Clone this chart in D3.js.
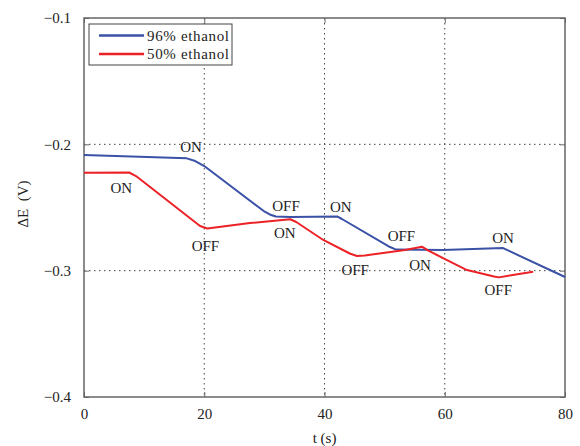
<!DOCTYPE html>
<html lang="en">
<head>
  <meta charset="UTF-8">
  <title>Delta E vs time</title>
  <script src="https://d3js.org/d3.v7.min.js"></script>
  <style>
    body { margin: 0; background: #fff; }
    text { font-family: "Liberation Serif", "DejaVu Serif", serif; fill: #222; }
  </style>
</head>
<body>
<div id="chart"></div>
<script>
// 96% ethanol series (t in s, dE in V)
const t96 = [0, 17.1, 18.5, 20.0, 29.9, 30.9, 31.9, 34.3, 42.1, 42.9, 50.9, 51.9, 59.7, 69.7, 70.7, 80];
const e96 = [-0.2084, -0.2111, -0.2132, -0.2172, -0.2528, -0.2555, -0.2571, -0.2575, -0.2571, -0.2591, -0.2813, -0.2833, -0.2836, -0.2821, -0.2844, -0.3050];

// 50% ethanol series
const t50 = [0, 7.5, 8.65, 19.3, 20.5, 27.6, 34.3, 35.3, 39.8, 44.2, 45.4, 46.7, 53.4, 56.2, 57.2, 59.8, 63.7, 68.2, 69.0, 74.7];
const e50 = [-0.2225, -0.2223, -0.2251, -0.2646, -0.2666, -0.2623, -0.2593, -0.2615, -0.2757, -0.2864, -0.2884, -0.2880, -0.2836, -0.2810, -0.2840, -0.2902, -0.2995, -0.3046, -0.3053, -0.3008];

// ON/OFF annotations
const noteText = ["ON", "ON", "OFF", "OFF", "ON", "ON", "OFF", "OFF", "ON", "ON", "OFF"];
const noteT = [17.8, 6.2, 20.2, 33.6, 33.4, 42.7, 52.8, 45.1, 55.9, 69.7, 68.9];
const noteE = [-0.2061, -0.2385, -0.2844, -0.2528, -0.2741, -0.2536, -0.2765, -0.3034, -0.2995, -0.2781, -0.3193];

const xTicks = [0, 20, 40, 60, 80];
const yTicks = [-0.1, -0.2, -0.3, -0.4];
const seriesNames = ["96% ethanol", "50% ethanol"];
const seriesColors = ["#3a51a6", "#ec2227"];

const width = 580, height = 446;
const margin = {top: 18, right: 15, bottom: 49, left: 84};
const iw = width - margin.left - margin.right;
const ih = height - margin.top - margin.bottom;

const svg = d3.select("#chart").append("svg")
  .attr("width", width)
  .attr("height", height);

const g = svg.append("g").attr("transform", `translate(${margin.left},${margin.top})`);

const x = d3.scaleLinear().domain([0, 80]).range([0, iw]);
const y = d3.scaleLinear().domain([-0.4, -0.1]).range([ih, 0]);

// dotted grid
g.append("g").selectAll("line")
  .data(xTicks.slice(1, -1))
  .join("line")
  .attr("x1", d => x(d)).attr("x2", d => x(d))
  .attr("y1", 0).attr("y2", ih)
  .attr("stroke", "#444").attr("stroke-width", 1)
  .attr("stroke-dasharray", "1.5,3.5");

g.append("g").selectAll("line")
  .data(yTicks.slice(1, -1))
  .join("line")
  .attr("x1", 0).attr("x2", iw)
  .attr("y1", d => y(d)).attr("y2", d => y(d))
  .attr("stroke", "#444").attr("stroke-width", 1)
  .attr("stroke-dasharray", "1.5,3.5");

// axes (ticks inside, like matlab)
const axisColor = "#666";
function styleAxis(sel) {
  sel.select(".domain").remove();
  sel.selectAll(".tick line").attr("stroke", axisColor);
  sel.selectAll(".tick text")
    .style("font-size", "15px")
    .style("font-family", "'Liberation Serif', serif")
    .attr("fill", "#222");
}

g.append("g")
  .attr("transform", `translate(0,${ih})`)
  .call(d3.axisBottom(x).tickValues(xTicks).tickSizeInner(-5).tickPadding(11).tickFormat(d3.format("d")))
  .call(styleAxis);

g.append("g")
  .call(d3.axisLeft(y).tickValues(yTicks).tickSizeInner(-5).tickPadding(13).tickFormat(d => d3.format(".1f")(d).replace("-", "\u2212")))
  .call(styleAxis);

g.append("g")
  .call(d3.axisTop(x).tickValues(xTicks).tickSizeInner(-5).tickFormat(""))
  .call(styleAxis);

g.append("g")
  .attr("transform", `translate(${iw},0)`)
  .call(d3.axisRight(y).tickValues(yTicks).tickSizeInner(-5).tickFormat(""))
  .call(styleAxis);

// frame
g.append("rect")
  .attr("width", iw).attr("height", ih)
  .attr("fill", "none")
  .attr("stroke", axisColor)
  .attr("stroke-width", 1.5);

// lines
const line = d3.line().x(d => x(d[0])).y(d => y(d[1]));
const series = [d3.zip(t96, e96), d3.zip(t50, e50)];

g.selectAll(".series")
  .data(series)
  .join("path")
  .attr("class", "series")
  .attr("d", line)
  .attr("fill", "none")
  .attr("stroke", (d, i) => seriesColors[i])
  .attr("stroke-width", 2)
  .attr("stroke-linejoin", "round");

// ON / OFF notes
g.selectAll(".note")
  .data(noteText)
  .join("text")
  .attr("class", "note")
  .attr("x", (d, i) => x(noteT[i]))
  .attr("y", (d, i) => y(noteE[i]))
  .attr("text-anchor", "middle")
  .style("font-size", "15px")
  .text(d => d);

// legend
const legend = g.append("g").attr("transform", "translate(5,6)");
legend.append("rect")
  .attr("width", 143).attr("height", 41)
  .attr("fill", "#fff")
  .attr("stroke", "#444")
  .attr("stroke-width", 1);

const items = legend.selectAll(".item")
  .data(seriesNames)
  .join("g")
  .attr("class", "item")
  .attr("transform", (d, i) => `translate(0,${11.5 + i * 18.5})`);

items.append("line")
  .attr("x1", 10).attr("x2", 55)
  .attr("stroke", (d, i) => seriesColors[i])
  .attr("stroke-width", 2.5);

items.append("text")
  .attr("x", 58)
  .attr("y", 5)
  .style("font-size", "15px")
  .attr("textLength", 82)
  .text(d => d);

// axis titles
svg.append("text")
  .attr("x", margin.left + iw / 2)
  .attr("y", 443)
  .attr("text-anchor", "middle")
  .style("font-size", "15px")
  .text("t (s)");

svg.append("text")
  .attr("transform", "translate(28,204) rotate(-90)")
  .attr("text-anchor", "middle")
  .style("font-size", "15px")
  .style("white-space", "pre")
  .text("\u0394E  (V)");
</script>
</body>
</html>
